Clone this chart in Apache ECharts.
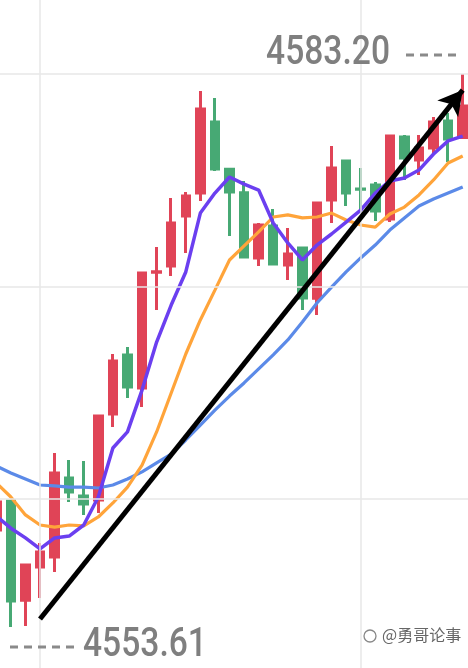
<!DOCTYPE html>
<html>
<head>
<meta charset="utf-8">
<script src="https://cdn.jsdelivr.net/npm/echarts@6/dist/echarts.min.js"></script>
<style>
html,body{margin:0;padding:0;background:#fff;overflow:hidden;width:468px;height:668px;position:relative;}
#c{position:absolute;left:-11px;top:0;width:481px;height:668px;}
</style>
</head>
<body>
<div id="c"></div>
<script>
// ---- data ----
var categories = ['k0','k1','k2','k3','k4','k5','k6','k7','k8','k9','k10','k11','k12','k13','k14','k15','k16','k17','k18','k19','k20','k21','k22','k23','k24','k25','k26','k27','k28','k29','k30','k31','k32'];
// [open, close, low, high]
var candles = [
  [4558.80, 4560.30, 4558.59, 4560.52],
  [4560.36, 4555.01, 4553.61, 4560.40],
  [4555.05, 4556.93, 4553.67, 4556.93],
  [4556.82, 4557.63, 4555.17, 4558.11],
  [4557.36, 4561.85, 4556.56, 4562.92],
  [4561.59, 4560.84, 4560.30, 4562.55],
  [4560.62, 4560.19, 4559.61, 4562.50],
  [4560.41, 4564.90, 4559.71, 4564.90],
  [4565.01, 4567.85, 4564.31, 4568.22],
  [4568.17, 4566.45, 4565.87, 4568.59],
  [4566.40, 4572.55, 4565.38, 4572.55],
  [4572.60, 4572.62, 4570.57, 4573.94],
  [4572.93, 4575.23, 4572.39, 4576.57],
  [4575.60, 4576.67, 4573.62, 4576.89],
  [4576.83, 4581.33, 4576.41, 4582.29],
  [4580.63, 4578.12, 4578.01, 4581.92],
  [4578.10, 4576.89, 4574.53, 4578.12],
  [4576.85, 4573.41, 4573.41, 4577.48],
  [4573.36, 4575.12, 4572.93, 4575.23],
  [4575.07, 4573.03, 4573.03, 4575.98],
  [4572.98, 4573.57, 4572.18, 4574.96],
  [4573.89, 4571.22, 4570.57, 4573.94],
  [4571.20, 4576.30, 4570.31, 4576.30],
  [4576.46, 4578.17, 4575.23, 4579.35],
  [4578.55, 4576.83, 4576.14, 4578.60],
  [4577.05, 4577.03, 4575.82, 4578.17],
  [4577.26, 4575.87, 4575.34, 4577.42],
  [4575.44, 4579.88, 4575.28, 4579.88],
  [4579.83, 4578.71, 4577.53, 4579.94],
  [4578.60, 4579.24, 4577.80, 4579.94],
  [4579.24, 4580.63, 4578.97, 4580.90],
  [4580.69, 4579.72, 4578.49, 4581.11],
  [4579.80, 4581.49, 4579.75, 4583.20]
];
var ma5 = [4559.55, 4558.90, 4558.38, 4557.79, 4558.38, 4558.48, 4559.07, 4560.57, 4563.19, 4564.05, 4566.29, 4568.86, 4570.84, 4572.61, 4575.76, 4576.83, 4577.69, 4577.31, 4576.99, 4575.23, 4574.16, 4573.25, 4574.05, 4574.64, 4575.28, 4575.92, 4576.83, 4577.48, 4577.64, 4578.06, 4578.92, 4579.62, 4579.88];
var ma10 = [4561.32, 4560.57, 4559.61, 4559.07, 4558.96, 4559.07, 4559.02, 4559.50, 4560.25, 4561.10, 4562.28, 4564.05, 4566.13, 4568.22, 4570.04, 4571.64, 4573.25, 4574.00, 4574.75, 4575.55, 4575.66, 4575.50, 4575.55, 4575.76, 4575.39, 4575.12, 4575.01, 4575.71, 4576.08, 4576.73, 4577.53, 4578.44, 4578.81];
var ma20 = [4562.23, 4561.85, 4561.53, 4561.21, 4561.16, 4561.10, 4561.10, 4561.05, 4561.21, 4561.53, 4561.91, 4562.39, 4562.87, 4563.62, 4564.42, 4565.22, 4565.97, 4566.67, 4567.42, 4568.17, 4568.97, 4569.93, 4570.95, 4571.80, 4572.61, 4573.36, 4574.05, 4574.85, 4575.50, 4576.14, 4576.51, 4576.83, 4577.15];
var gridValues = [4583.20, 4571.80, 4560.46];
var gridCategories = [3, 25];
var arrowFrom = [3, 4554.04];
var arrowTo = [32, 4582.34];
var watermark = '@勇哥论事';
// -------------------------------------

var highs = candles.map(function (c) { return c[3]; });
var lows = candles.map(function (c) { return c[2]; });
var maxHigh = Math.max.apply(null, highs);
var minLow = Math.min.apply(null, lows);

var chart = echarts.init(document.getElementById('c'), null, {renderer: 'canvas'});
var gridLineData = gridCategories.map(function (i) { return {xAxis: i}; })
  .concat(gridValues.map(function (v) { return {yAxis: v}; }));

var OX = 11; // chart canvas is shifted 11px left of the page
var numFont = '500 40px Roboto, "Noto Sans", sans-serif';

chart.setOption({
  animation: false,
  backgroundColor: '#ffffff',
  grid: {left: 0, right: 0, top: 0, bottom: 0},
  xAxis: {
    type: 'category', data: categories, boundaryGap: true,
    axisLine: {show: false}, axisTick: {show: false}, axisLabel: {show: false}, splitLine: {show: false}
  },
  yAxis: {
    type: 'value', min: 4551.42, max: 4587.16, scale: true,
    axisLine: {show: false}, axisTick: {show: false}, axisLabel: {show: false}, splitLine: {show: false}
  },
  series: [
    {
      type: 'line', data: [], z: 0, silent: true,
      markLine: {
        silent: true, symbol: 'none', label: {show: false},
        lineStyle: {color: '#e7e7e7', width: 1.5, type: 'solid'},
        data: gridLineData, animation: false
      }
    },
    {
      type: 'candlestick', data: candles, z: 2,
      barWidth: 8,
      itemStyle: {
        color: '#e04457', color0: '#47a974',
        borderColor: '#e04457', borderColor0: '#47a974',
        borderWidth: 3
      }
    },
    {type: 'line', data: ma20, z: 3, symbol: 'none', smooth: false,
      lineStyle: {color: '#5b8ae8', width: 3.2}},
    {type: 'line', data: ma10, z: 3, symbol: 'none', smooth: false,
      lineStyle: {color: '#ffa43a', width: 3.2}},
    {type: 'line', data: ma5, z: 3, symbol: 'none', smooth: false,
      lineStyle: {color: '#6b3ff0', width: 3.5}},
    {
      type: 'line', data: [], z: 5, silent: true,
      markLine: {
        silent: true, label: {show: false}, symbolSize: [20, 24],
        lineStyle: {color: '#000', width: 5, type: 'solid'},
        data: [[{coord: arrowFrom, symbol: 'none'}, {coord: arrowTo, symbol: 'arrow'}]],
        animation: false
      }
    }
  ],
  graphic: [
    {type: 'text', x: 390 + OX, y: 54, z: 10, scaleX: 0.84,
      style: {text: maxHigh.toFixed(2), font: numFont, fill: '#7f7f7f', align: 'right', verticalAlign: 'middle'}},
    {type: 'text', x: 83 + OX, y: 645.5, z: 10, scaleX: 0.84,
      style: {text: minLow.toFixed(2), font: numFont, fill: '#7f7f7f', align: 'left', verticalAlign: 'middle'}},
    {type: 'line', z: 10, shape: {x1: 406 + OX, y1: 55, x2: 456 + OX, y2: 55},
      style: {stroke: '#8a8a8a', lineWidth: 3, lineDash: [8, 6]}},
    {type: 'line', z: 10, shape: {x1: 10 + OX, y1: 647, x2: 74 + OX, y2: 647},
      style: {stroke: '#8a8a8a', lineWidth: 3, lineDash: [8, 6]}},
    {type: 'circle', z: 10, shape: {cx: 370 + OX, cy: 636, r: 6},
      style: {fill: 'none', stroke: '#888', lineWidth: 1.3}},
    {type: 'text', x: 382 + OX, y: 635, z: 10,
      style: {text: watermark, font: '16px "Noto Sans CJK SC", sans-serif', fill: '#666',
        stroke: '#fff', lineWidth: 1, align: 'left', verticalAlign: 'middle'}}
  ]
});
</script>
</body>
</html>
